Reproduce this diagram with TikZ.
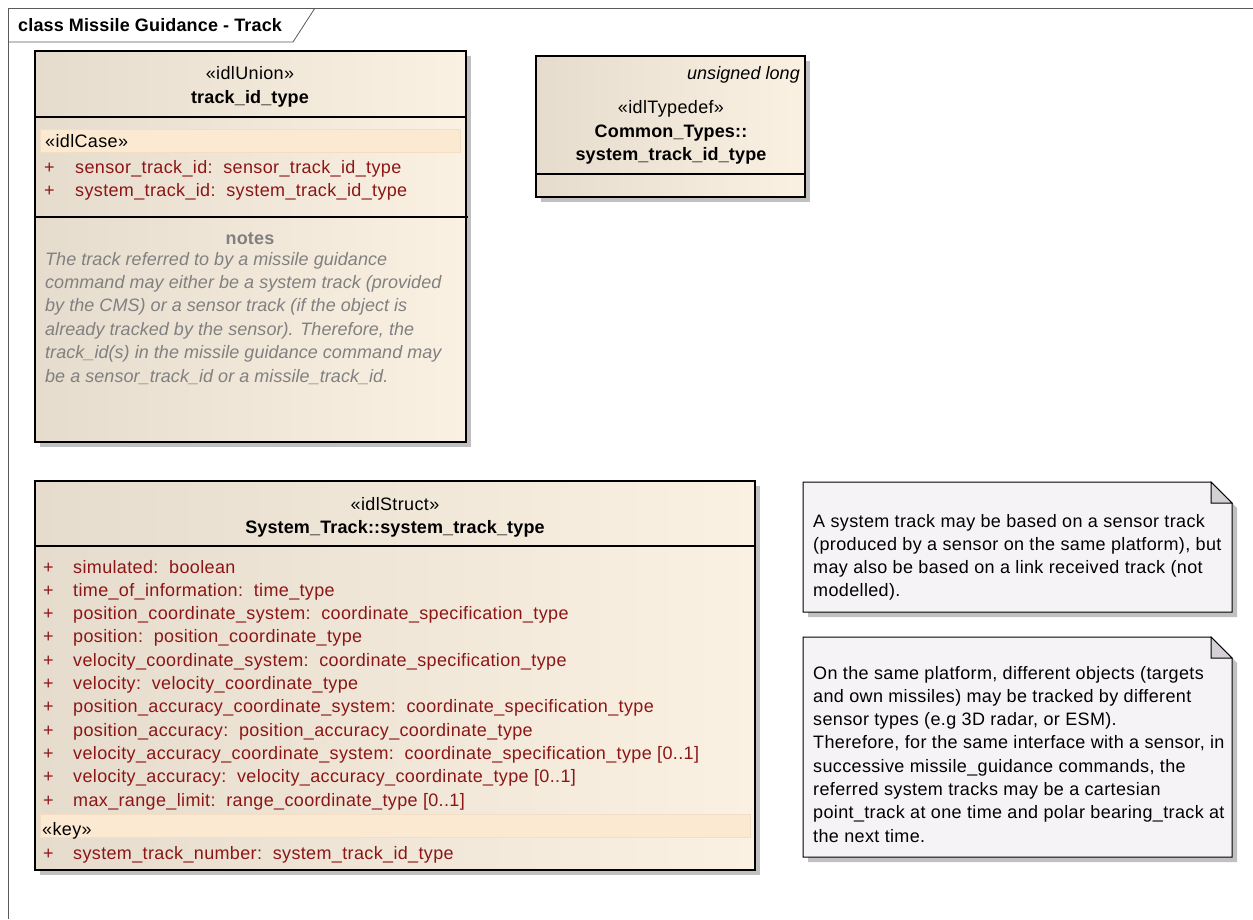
\documentclass[tikz,border=0pt]{standalone}
\usepackage{fontspec}
\setmainfont{Liberation Sans}[LetterSpace=2,
    ItalicFeatures={LetterSpace=0.3},
    BoldFeatures={LetterSpace=0.8}]
\usetikzlibrary{arrows.meta, positioning}

\definecolor{umlleft}{RGB}{230,220,205}
\definecolor{umlright}{RGB}{251,241,227}
\definecolor{attrred}{RGB}{140,22,22}
\definecolor{notegray}{RGB}{128,128,128}
\definecolor{bandfill}{RGB}{251,233,210}
\definecolor{bandline}{RGB}{243,222,196}
\definecolor{notefill}{RGB}{246,243,247}
\definecolor{foldfill}{RGB}{212,208,214}
\definecolor{shadowgray}{RGB}{192,192,192}
\definecolor{framegray}{RGB}{90,90,90}

\newcommand{\classfont}{\fontsize{18}{23}\selectfont}

\begin{document}
\begin{tikzpicture}[x=1pt, y=-1pt, >=Stealth,
    every node/.style={font=\classfont, inner sep=0pt},
    classbox/.style={draw=black, line width=1.3pt, left color=umlleft, right color=umlright},
    shadowbox/.style={fill=shadowgray},
    band/.style={fill=bandfill, draw=bandline, line width=0.6pt},
    stereo/.style={anchor=base},
    cname/.style={anchor=base, font=\classfont\bfseries},
    plus/.style={anchor=base west, text=attrred},
    attr/.style={anchor=base west, text=attrred},
    notetxt/.style={anchor=base west, text=notegray, font=\classfont\itshape},
    comment/.style={anchor=base west},
    notebox/.style={fill=notefill, draw=black, line width=1pt}]

    \useasboundingbox (0,0) rectangle (1253,919);
    \fill[white] (0,0) rectangle (1253,919);

    % Frame
    \draw[framegray, line width=0.8pt] (8,919) -- (8,8) -- (1253,8);
    \draw[framegray, line width=0.8pt] (8,42) -- (293,42) -- (315,8);
    \node[anchor=base west, font=\classfont\bfseries] (frametitle) at (18,31) {class Missile Guidance - Track};

    % Union track_id_type
    \fill[shadowbox] (40,56) rectangle (471,447);
    \draw[classbox] (35,51) rectangle (466,442);
    \draw[line width=1.3pt] (35,117) -- (466,117);
    \draw[line width=1.3pt] (35,217) -- (468,217);
    \fill[band] (40,129) rectangle (460,152);
    \node[stereo] (unionstereo) at (250,79) {«idlUnion»};
    \node[cname] (unionname) at (250,103) {track\_id\_type};
    \node[comment] (casestereo) at (45,147) {«idlCase»};
    \node[plus] (up1) at (44,173) {+};
    \node[attr] (ua1) at (75,173) {sensor\_track\_id:~~sensor\_track\_id\_type};
    \node[plus] (up2) at (44,196) {+};
    \node[attr] (ua2) at (75,196) {system\_track\_id:~~system\_track\_id\_type};
    \node[anchor=base, text=notegray, font=\classfont\bfseries] (notestitle) at (250,244) {notes};
    \foreach \ln [count=\i from 0] in {
        {The track referred to by a missile guidance},
        {command may either be a system track (provided},
        {by the CMS) or a sensor track (if the object is},
        {already tracked by the sensor). Therefore, the},
        {track\_id(s) in the missile guidance command may},
        {be a sensor\_track\_id or a missile\_track\_id.}}
        \node[notetxt] (un\i) at (45,265+23.4*\i) {\ln};

    % Typedef system_track_id_type
    \fill[shadowbox] (541,61) rectangle (810,202);
    \draw[classbox] (536,56) rectangle (805,197);
    \draw[line width=1.3pt] (536,174) -- (805,174);
    \node[anchor=base east, font=\classfont\itshape] (tdtag) at (800,79) {unsigned long};
    \node[stereo] (tdstereo) at (671,113) {«idlTypedef»};
    \node[cname] (tdname1) at (671,137) {Common\_Types::};
    \node[cname] (tdname2) at (671,160) {system\_track\_id\_type};

    % Struct system_track_type
    \fill[shadowbox] (40,486) rectangle (760,875);
    \draw[classbox] (35,481) rectangle (755,870);
    \draw[line width=1.3pt] (35,546) -- (755,546);
    \node[stereo] (ststereo) at (395,510) {«idlStruct»};
    \node[cname] (stname) at (395,533) {System\_Track::system\_track\_type};
    \foreach \ln [count=\i from 0] in {
        {simulated:~~boolean},
        {time\_of\_information:~~time\_type},
        {position\_coordinate\_system:~~coordinate\_specification\_type},
        {position:~~position\_coordinate\_type},
        {velocity\_coordinate\_system:~~coordinate\_specification\_type},
        {velocity:~~velocity\_coordinate\_type},
        {position\_accuracy\_coordinate\_system:~~coordinate\_specification\_type},
        {position\_accuracy:~~position\_accuracy\_coordinate\_type},
        {velocity\_accuracy\_coordinate\_system:~~coordinate\_specification\_type [0..1]},
        {velocity\_accuracy:~~velocity\_accuracy\_coordinate\_type [0..1]},
        {max\_range\_limit:~~range\_coordinate\_type [0..1]}}
    {
        \node[plus] (sp\i) at (43,573+23.3*\i) {+};
        \node[attr] (sa\i) at (73,573+23.3*\i) {\ln};
    }
    \fill[band] (40,814) rectangle (750,837);
    \node[comment] (keystereo) at (42,835) {«key»};
    \node[plus] (kp) at (43,859) {+};
    \node[attr] (ka) at (73,859) {system\_track\_number:~~system\_track\_id\_type};

    % Note on system track origin
    \fill[shadowbox] (808,487) -- (1216,487) -- (1237,508) -- (1237,617) -- (808,617) -- cycle;
    \draw[notebox] (803,482) -- (1211,482) -- (1232,503) -- (1232,612) -- (803,612) -- cycle;
    \draw[fill=foldfill, line width=1pt] (1211,482) -- (1211,503) -- (1232,503) -- cycle;
    \foreach \ln [count=\i from 0] in {
        {A system track may be based on a sensor track},
        {(produced by a sensor on the same platform), but},
        {may also be based on a link received track (not},
        {modelled).}}
        \node[comment] (na\i) at (813,527+23.3*\i) {\ln};

    % Note on sensor types
    \fill[shadowbox] (808,642) -- (1216,642) -- (1237,663) -- (1237,862) -- (808,862) -- cycle;
    \draw[notebox] (803,637) -- (1211,637) -- (1232,658) -- (1232,857) -- (803,857) -- cycle;
    \draw[fill=foldfill, line width=1pt] (1211,637) -- (1211,658) -- (1232,658) -- cycle;
    \foreach \ln [count=\i from 0] in {
        {On the same platform, different objects (targets},
        {and own missiles) may be tracked by different},
        {sensor types (e.g 3D radar, or ESM).},
        {Therefore, for the same interface with a sensor, in},
        {successive missile\_guidance commands, the},
        {referred system tracks may be a cartesian},
        {point\_track at one time and polar bearing\_track at},
        {the next time.}}
        \node[comment] (nb\i) at (813,679+23.3*\i) {\ln};
\end{tikzpicture}
\end{document}
